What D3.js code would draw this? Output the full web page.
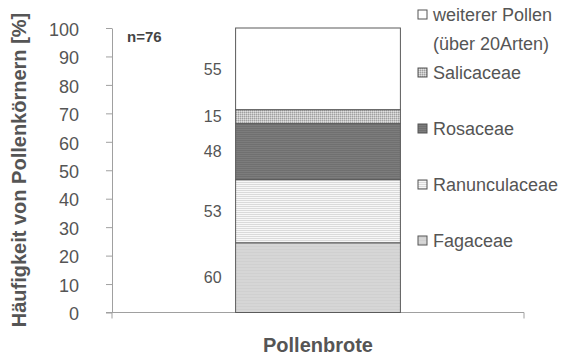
<!DOCTYPE html>
<html>
<head>
<meta charset="utf-8">
<script src="https://cdn.jsdelivr.net/npm/d3@7"></script>
<style>
  html, body { margin: 0; padding: 0; background: #fff; }
  svg { display: block; font-family: "Liberation Sans", Arial, sans-serif; }
</style>
</head>
<body>
<svg id="chart" width="564" height="358"></svg>
<script>
// Stack order from bottom to top
const categories = ["Pollenbrote"];
const taxa = ["Fagaceae", "Ranunculaceae", "Rosaceae", "Salicaceae", "weiterer Pollen"];
const shares = [24.5, 22.2, 19.7, 4.9, 28.7];      // % of pollen grains
const counts = [60, 53, 48, 15, 55];                // numbers printed beside each segment
const yTicks = [0, 10, 20, 30, 40, 50, 60, 70, 80, 90, 100];
const legendLabels = [["weiterer Pollen", "(über 20Arten)"], ["Salicaceae"], ["Rosaceae"], ["Ranunculaceae"], ["Fagaceae"]];
const legendOrder = [4, 3, 2, 1, 0];
const sampleNote = "n=76";

const svg = d3.select("#chart");
const plot = { left: 112, right: 524, top: 28, bottom: 312.5 };

const x = d3.scaleBand().domain(categories).range([plot.left, plot.right]).padding(0);
const barFrac = 0.4;
const y = d3.scaleLinear().domain([0, 100]).range([plot.bottom, plot.top]);

// Fill patterns for each taxon
const defs = svg.append("defs");
function stripes(id, bg, line, gap, w) {
  const p = defs.append("pattern").attr("id", id).attr("patternUnits", "userSpaceOnUse")
    .attr("width", 4).attr("height", gap);
  p.append("rect").attr("width", 4).attr("height", gap).attr("fill", bg);
  p.append("rect").attr("y", 0).attr("width", 4).attr("height", w).attr("fill", line);
}
stripes("pFag", "#d6d6d6", "#d0d0d0", 3, 1);
stripes("pRan", "#f7f7f7", "#dadada", 2, 1);
stripes("pRos", "#7c7c7c", "#707070", 2, 1);
const dots = defs.append("pattern").attr("id", "pSal").attr("patternUnits", "userSpaceOnUse")
  .attr("width", 2).attr("height", 2);
dots.append("rect").attr("width", 2).attr("height", 2).attr("fill", "#c4c4c4");
dots.append("rect").attr("width", 1).attr("height", 1).attr("fill", "#a0a0a0");
dots.append("rect").attr("x", 1).attr("y", 1).attr("width", 1).attr("height", 1).attr("fill", "#e0e0e0");
const fills = ["url(#pFag)", "url(#pRan)", "url(#pRos)", "url(#pSal)", "#ffffff"];

// Y axis
const yAxis = d3.axisLeft(y).tickValues(yTicks).tickSize(6).tickPadding(27).tickSizeOuter(0);
const gy = svg.append("g").attr("transform", `translate(${plot.left},0)`).call(yAxis);
gy.select(".domain").attr("stroke", "#a0a0a0");
gy.selectAll(".tick line").attr("stroke", "#a0a0a0");
gy.selectAll(".tick text").attr("fill", "#555").attr("font-size", 18).attr("dy", "0.4em");

// X axis baseline with end ticks
const gx = svg.append("g");
gx.append("line").attr("x1", plot.left - 6).attr("x2", plot.right)
  .attr("y1", y(0)).attr("y2", y(0)).attr("stroke", "#a0a0a0");
[plot.left, plot.right].forEach(px => {
  gx.append("line").attr("x1", px).attr("x2", px).attr("y1", y(0)).attr("y2", y(0) + 6).attr("stroke", "#a0a0a0");
});

// Stacked segments
const stackData = [];
let acc = 0;
shares.forEach((v, i) => { stackData.push({ i, y0: acc, y1: acc + v }); acc += v; });
const cat = categories[0];
const barW = x.bandwidth() * barFrac;
const barX = x(cat) + (x.bandwidth() - barW) / 2;
svg.append("g").selectAll("rect").data(stackData).join("rect")
  .attr("x", barX)
  .attr("width", barW)
  .attr("y", d => y(d.y1))
  .attr("height", d => y(d.y0) - y(d.y1))
  .attr("fill", d => fills[d.i])
  .attr("stroke", "#5a5a5a").attr("stroke-width", 1);

// Count labels beside segments
svg.append("g").selectAll("text").data(stackData).join("text")
  .attr("x", barX - 14)
  .attr("y", d => y((d.y0 + d.y1) / 2))
  .attr("dy", "0.36em")
  .attr("text-anchor", "end")
  .attr("fill", "#555").attr("font-size", 16)
  .text(d => counts[d.i]);

// Sample size
svg.append("text").attr("x", 127).attr("y", 42).attr("font-size", 15).attr("font-weight", "bold")
  .attr("fill", "#444").text(sampleNote);

// Axis titles
svg.append("text").attr("x", x(cat) + x.bandwidth() / 2).attr("y", 352)
  .attr("text-anchor", "middle").attr("font-size", 20).attr("font-weight", "bold")
  .attr("fill", "#555").text(categories[0]);
svg.append("text").attr("transform", "translate(26,170) rotate(-90)")
  .attr("text-anchor", "middle").attr("font-size", 20).attr("font-weight", "bold")
  .attr("fill", "#555").text("Häufigkeit von Pollenkörnern [%]");

// Legend
const legendY = [15, 73, 129, 185, 241];
const lg = svg.append("g");
legendOrder.forEach((idx, k) => {
  const cy = legendY[k];
  lg.append("rect").attr("x", 418).attr("y", cy - 5).attr("width", 9).attr("height", 9)
    .attr("fill", fills[idx]).attr("stroke", "#555");
  legendLabels[k].forEach((line, j) => {
    lg.append("text").attr("x", 433).attr("y", cy + j * 28.5).attr("dy", "0.36em")
      .attr("font-size", 18).attr("fill", "#555").text(line);
  });
});
</script>
</body>
</html>
